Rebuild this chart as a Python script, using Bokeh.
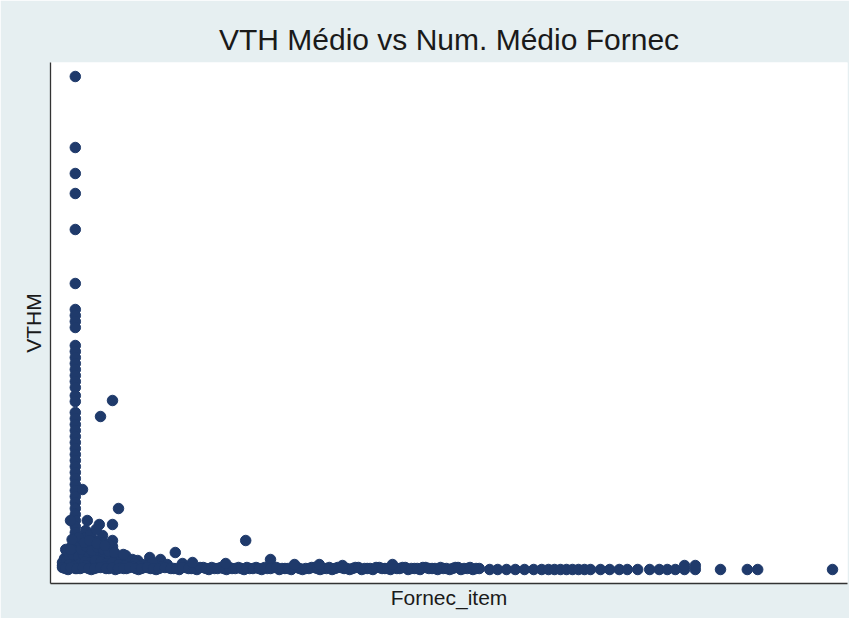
from bokeh.plotting import figure
from bokeh.models import Range1d, FixedTicker
from bokeh.embed import file_html
from bokeh.resources import INLINE

# ---- data (Fornec_item, VTHM) ----
# main vertical column near Fornec_item ~ 1.6
col_x = [1.6] * 47
col_y = [986, 844, 792, 752, 680, 572, 520, 508, 496, 484, 448, 436, 424, 412, 400,
         388, 376, 364, 348, 336, 314, 302, 290, 278, 266, 254, 242, 230, 218, 206,
         194, 182, 170, 158, 146, 134, 122, 110, 98, 86, 74, 62, 50, 38, 26, 14, 2]

# scattered points near the lower left
scat_x = [6.25, 4.75, 2.5, 7.0, 6.25, 4.6, 3.1, 1.0, 14.1, 22.9, 26.0, 7.9, 10.9, 9.4,
          12.25, 6.25, 6.25, 6.25, 6.25, 6.25, 5.0, 5.0, 5.0, 2.9, 2.9,
          0.0, 0.25, 0.6, 1.0, 2.25, 2.5, 3.1, 3.75, 4.0, 4.4, 5.4, 5.6, 6.9, 7.25,
          8.1, 8.75, 10.0, 11.25, 13.1, 15.0, 16.25, 3.5, 4.2, 2.0, 1.2, 0.4, 5.8]
scat_y = [338, 306, 160, 122, 90, 90, 98, 98, 34, 58, 20, 28, 24, 18,
          20, 58, 46, 34, 22, 10, 68, 54, 42, 78, 64,
          8, 22, 34, 44, 54, 34, 24, 44, 58, 34, 24, 38, 24, 14,
          14, 20, 10, 14, 10, 12, 6, 70, 80, 64, 60, 40, 50]

# dense blob at the lower left corner
blob_x = [0.0, 0.5, 0.9, 1.3, 2.0, 2.6, 3.3, 3.9, 4.5, 5.2, 5.9, 6.6, 7.4, 8.2, 9.0,
          0.2, 0.8, 2.2, 2.8, 3.4, 4.1, 4.8, 5.5, 6.2, 7.0, 7.8, 8.6, 9.6,
          1.0, 2.4, 3.0, 3.7, 4.4, 5.1, 5.8, 6.5, 7.6, 2.7, 3.4, 4.3, 5.3]
blob_y = [14, 18, 24, 30, 26, 30, 28, 32, 26, 30, 28, 22, 18, 16, 12,
          4, 10, 12, 16, 14, 18, 16, 12, 14, 10, 8, 6, 6,
          40, 40, 46, 38, 44, 40, 36, 34, 30, 54, 58, 52, 48]

# dense band along the bottom
band_x = [0.0, 0.7, 1.4, 2.2, 2.9, 3.6, 4.4, 5.1, 5.8, 6.6, 7.3, 8.0, 8.8, 9.5, 10.2,
          11.0, 11.7, 12.4, 13.2, 13.9, 14.6, 15.4, 16.1, 16.8, 17.6, 18.3, 19.0,
          19.8, 20.5, 21.2, 22.0, 22.7, 23.4, 24.2, 24.9, 25.6, 26.4, 27.1, 27.8,
          28.6, 29.3, 30.0, 30.8, 31.5, 32.2, 33.0, 33.7, 34.4, 35.2, 35.9, 36.6,
          37.4, 38.1, 38.8, 39.6, 40.3, 41.0, 41.8, 42.5, 43.2, 44.0, 44.7, 45.4,
          46.2, 46.9, 47.6, 48.4, 49.1, 49.8, 50.6, 51.3, 52.1]
band_y = [4, 0, 6, 2, 8, 0, 4, 6, 2, 0, 4, 2, 6, 0, 4, 2, 0, 6, 4, 2, 0, 4, 2, 0,
          4, 0, 2, 4, 0, 2, 4, 0, 2, 4, 0, 2, 4, 0, 2, 0, 4, 0, 2, 4, 0, 2, 0, 4,
          2, 0, 4, 0, 2, 0, 4, 2, 0, 2, 4, 0, 2, 0, 4, 2, 0, 2, 0, 4, 0, 2, 0, 2]

# second row of the band, between the first
band2_x = [0.35, 1.05, 1.8, 2.55, 3.25, 4.0, 4.75, 5.45, 6.2, 6.95, 7.65, 8.4, 9.15,
           9.85, 10.6, 11.35, 12.05, 12.8, 13.55, 14.25, 15.0, 15.75, 16.45, 17.2,
           17.95, 18.65, 19.4, 20.15, 20.85, 21.6, 22.35, 23.05, 23.8, 24.55, 25.25,
           26.0, 26.75, 27.45, 28.2, 28.95, 29.65, 30.4, 31.15, 31.85, 32.6, 33.35,
           34.05, 34.8, 35.55, 36.25, 37.0, 37.75, 38.45, 39.2, 39.95, 40.65, 41.4,
           42.15, 42.85, 43.6, 44.35, 45.05, 45.8, 46.55, 47.25, 48.0, 48.75, 49.45,
           50.2, 50.95, 51.7]
band2_y = [2, 4, 2, 4, 2, 2, 4, 2, 4, 2, 2, 4, 2,
           2, 4, 2, 2, 4, 2, 2, 4, 2, 2, 4,
           2, 4, 2, 2, 4, 2, 2, 4, 2, 2, 4,
           2, 4, 2, 2, 4, 2, 2, 4, 2, 2, 4,
           2, 4, 2, 2, 4, 2, 2, 4, 2, 2, 4,
           2, 4, 2, 2, 4, 2, 2, 4, 2, 2, 4,
           2, 4, 2]

# small bumps just above the band
bump_x = [20.4, 16.25, 29.0, 32.1, 35.0, 41.25]
bump_y = [12, 14, 10, 10, 8, 10]

# sparse points toward the right
tail_x = [53.4, 54.4, 55.5, 56.6, 57.75, 58.9, 59.9, 60.75, 61.5, 62.25, 63.0, 63.75,
          64.5, 65.25, 66.0, 67.25, 68.4, 69.6, 70.6, 71.9, 73.4, 74.6, 75.6, 76.6,
          77.75, 77.75, 79.1, 79.1, 82.25, 85.6, 86.9, 96.25]
tail_y = [0, 0, 0, 0, 0, 0, 0, 0, 0, 0, 0, 0,
          0, 0, 0, 0, 0, 0, 0, 0, 0, 0, 0, 0,
          0, 8, 0, 8, 0, 0, 0, 0]

groups = [(col_x, col_y), (scat_x, scat_y), (blob_x, blob_y), (band_x, band_y),
          (band2_x, band2_y), (bump_x, bump_y), (tail_x, tail_y)]
xs, ys = [], []
for gx, gy in groups:
    assert len(gx) == len(gy)
    xs += gx
    ys += gy

BG = "#e6eff1"
NAVY = "#1f3a6b"

p = figure(width=849, height=618, output_backend="svg", toolbar_location=None,
           x_range=Range1d(-1.5, 98.125), y_range=Range1d(-28, 1014),
           min_border_left=50, min_border_right=2, min_border_top=62,
           min_border_bottom=35, background_fill_color="white",
           border_fill_color=BG, outline_line_color=None,
           title="VTH Médio vs Num. Médio Fornec")

p.scatter(xs, ys, size=10.5, fill_color=NAVY, line_color=NAVY)

p.title.align = "center"
p.title.text_font = "Liberation Sans"
p.title.text_font_size = "30px"
p.title.text_font_style = "normal"
p.title.text_color = "#1a1a1a"
p.title.standoff = 14

p.xgrid.visible = False
p.ygrid.visible = False

for ax in (p.xaxis[0], p.yaxis[0]):
    ax.ticker = FixedTicker(ticks=[])
    ax.major_tick_line_color = None
    ax.minor_tick_line_color = None
    ax.axis_line_color = "#333333"
    ax.axis_line_width = 1.3
    ax.axis_label_text_font = "Liberation Sans"
    ax.axis_label_text_font_size = "21px"
    ax.axis_label_text_font_style = "normal"
    ax.axis_label_text_color = "#1a1a1a"

p.xaxis.axis_label = "Fornec_item"
p.yaxis.axis_label = "VTHM"
p.xaxis.axis_label_standoff = 2
p.yaxis.axis_label_standoff = 6

html = file_html(p, INLINE)
open("out.html", "w").write(html)
